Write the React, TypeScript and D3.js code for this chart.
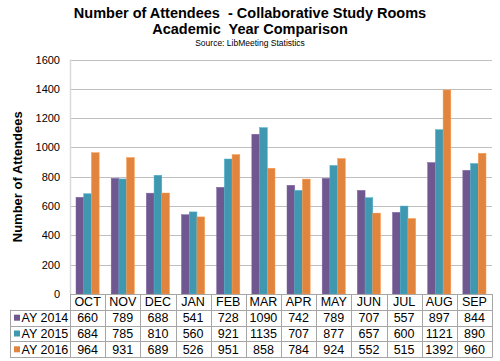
import { useEffect, useRef } from 'react'
import * as d3 from 'd3'

const months = ['OCT', 'NOV', 'DEC', 'JAN', 'FEB', 'MAR', 'APR', 'MAY', 'JUN', 'JUL', 'AUG', 'SEP']
const seriesNames = ['AY 2014', 'AY 2015', 'AY 2016']
const ay2014 = [660, 789, 688, 541, 728, 1090, 742, 789, 707, 557, 897, 844]
const ay2015 = [684, 785, 810, 560, 921, 1135, 707, 877, 657, 600, 1121, 890]
const ay2016 = [964, 931, 689, 526, 951, 858, 784, 924, 552, 515, 1392, 960]
const yTicks = [0, 200, 400, 600, 800, 1000, 1200, 1400, 1600]
const colors = ['#6f578f', '#4098b0', '#e0843e']

const W = 500
const H = 361

export default function App() {
  const svgRef = useRef<SVGSVGElement>(null)

  useEffect(() => {
    if (!svgRef.current) return
    const svg = d3.select(svgRef.current)
    svg.selectAll('*').remove()

    const font = '"Liberation Sans", Arial, sans-serif'
    const left = 70
    const right = 492
    const top = 59.5
    const bottom = 294
    const rowH = 15.8
    const tableLeft = 10
    const series = [ay2014, ay2015, ay2016]

    const x = d3.scaleBand().domain(months).range([left, right])
    const y = d3.scaleLinear().domain([0, 1600]).range([bottom, top])
    // bars sit in the middle of each month, with a wide gap between groups
    const inner = d3.scaleBand().domain(seriesNames).range([0, x.bandwidth()]).paddingOuter(0.78)

    // Titles
    svg.append('text')
      .attr('x', 250).attr('y', 17.5)
      .attr('text-anchor', 'middle')
      .style('font-family', font).style('font-size', '14.5px').style('font-weight', 'bold')
      .style('white-space', 'pre')
      .text('Number of Attendees  - Collaborative Study Rooms')
    svg.append('text')
      .attr('x', 250).attr('y', 34.3)
      .attr('text-anchor', 'middle')
      .style('font-family', font).style('font-size', '14.5px').style('font-weight', 'bold')
      .style('white-space', 'pre')
      .text('Academic  Year Comparison')
    svg.append('text')
      .attr('x', 250).attr('y', 46)
      .attr('text-anchor', 'middle')
      .style('font-family', font).style('font-size', '8.5px')
      .text('Source: LibMeeting Statistics')

    // Grid lines
    svg.append('g').selectAll('line')
      .data(yTicks.filter(t => t > 0))
      .enter().append('line')
      .attr('x1', left).attr('x2', right)
      .attr('y1', d => Math.round(y(d)) + 0.5).attr('y2', d => Math.round(y(d)) + 0.5)
      .attr('stroke', '#bfbfbf').attr('stroke-width', 1)

    // Y tick labels
    svg.append('g').selectAll('text')
      .data(yTicks)
      .enter().append('text')
      .attr('x', 60).attr('y', d => y(d) + 4)
      .attr('text-anchor', 'end')
      .style('font-family', font).style('font-size', '11px').attr('fill', '#000')
      .text(d => d)

    // Y axis line
    svg.append('line')
      .attr('x1', left + 0.5).attr('x2', left + 0.5)
      .attr('y1', top).attr('y2', bottom)
      .attr('stroke', '#d9d9d9').attr('stroke-width', 1.5)

    // Axis label
    svg.append('text')
      .attr('transform', `translate(22,${(top + bottom) / 2}) rotate(-90)`)
      .attr('text-anchor', 'middle')
      .style('font-family', font).style('font-size', '13px').style('font-weight', 'bold')
      .text('Number of Attendees')

    // Bars
    series.forEach((vals, si) => {
      svg.append('g').selectAll('rect')
        .data(vals)
        .enter().append('rect')
        .attr('x', (_, i) => (x(months[i]) as number) + (inner(seriesNames[si]) as number))
        .attr('y', d => y(d))
        .attr('width', inner.bandwidth())
        .attr('height', d => y(0) - y(d))
        .attr('fill', colors[si])
        .attr('stroke', d3.color(colors[si])!.brighter(0.4).toString())
        .attr('stroke-width', 0.5)
    })

    // Data table
    const tcol = '#a6a6a6'
    const tg = svg.append('g')
    const tableBottom = bottom + rowH * 4
    tg.append('line').attr('x1', left).attr('x2', right).attr('y1', bottom + 0.5).attr('y2', bottom + 0.5).attr('stroke', tcol)
    for (let r = 1; r <= 4; r++) {
      const yy = Math.round(bottom + rowH * r) + 0.5
      tg.append('line').attr('x1', tableLeft).attr('x2', right).attr('y1', yy).attr('y2', yy).attr('stroke', tcol)
    }
    tg.append('line').attr('x1', tableLeft + 0.5).attr('x2', tableLeft + 0.5)
      .attr('y1', bottom + rowH).attr('y2', tableBottom + 0.5).attr('stroke', tcol)
    const bounds = [...months.map(m => x(m) as number), right]
    tg.selectAll('line.v')
      .data(bounds)
      .enter().append('line')
      .attr('class', 'v')
      .attr('x1', d => Math.round(d) + 0.5).attr('x2', d => Math.round(d) + 0.5)
      .attr('y1', bottom).attr('y2', tableBottom + 0.5)
      .attr('stroke', tcol)

    // header
    tg.selectAll('text.h')
      .data(months)
      .enter().append('text')
      .attr('class', 'h')
      .attr('x', d => (x(d) as number) + x.bandwidth() / 2)
      .attr('y', bottom + rowH / 2 + 4.5)
      .attr('text-anchor', 'middle')
      .style('font-family', font).style('font-size', '12.5px')
      .text(d => d)

    series.forEach((vals, si) => {
      const rowY = bottom + rowH * (si + 1)
      tg.append('rect')
        .attr('x', 14).attr('y', rowY + rowH / 2 - 3)
        .attr('width', 6).attr('height', 6)
        .attr('fill', colors[si])
      tg.append('text')
        .attr('x', 21.5).attr('y', rowY + rowH / 2 + 4.5)
        .style('font-family', font).style('font-size', '12.5px')
        .text(seriesNames[si])
      tg.selectAll(`text.s${si}`)
        .data(vals)
        .enter().append('text')
        .attr('class', `s${si}`)
        .attr('x', (_, i) => (x(months[i]) as number) + x.bandwidth() / 2)
        .attr('y', rowY + rowH / 2 + 4.5)
        .attr('text-anchor', 'middle')
        .style('font-family', font).style('font-size', '12.5px')
        .text(d => d)
    })
  }, [])

  return (
    <svg
      ref={svgRef}
      width={W}
      height={H}
      style={{ position: 'absolute', left: 0, top: 0, background: '#fff' }}
    />
  )
}
